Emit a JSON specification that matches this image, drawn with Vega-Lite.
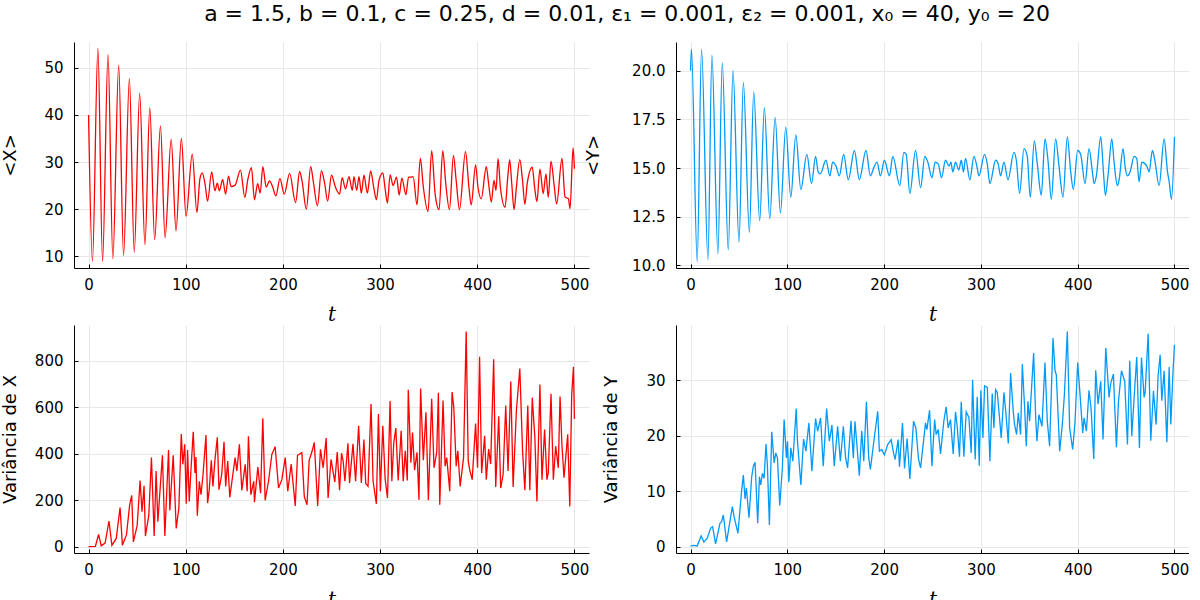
{
"$schema": "https://vega.github.io/schema/vega-lite/v6.json",
"padding": {"left": 0, "top": 3, "right": 0, "bottom": 0},
"background": "white",
"title": {"text": "a = 1.5, b = 0.1, c = 0.25, d = 0.01, ε₁ = 0.001, ε₂ = 0.001, x₀ = 40, y₀ = 20", "font": "DejaVu Sans", "fontSize": 22, "fontWeight": "normal", "anchor": "middle", "offset": 16, "dx": 32, "color": "#000"},
"datasets": {
"xm": [
{"t":0,"v":40},{"t":4,"v":8.9},{"t":9.6,"v":54.2},{"t":14.4,"v":8.9},{"t":20,"v":52.8},{"t":25,"v":9.5},{"t":31,"v":50.6},{"t":36,"v":10.2},{"t":42,"v":47.7},{"t":47,"v":10.9},{"t":52.6,"v":44.6},{"t":58,"v":12.5},{"t":63,"v":41.5},{"t":68,"v":13.5},{"t":74,"v":37.7},{"t":78.7,"v":13.9},{"t":85,"v":34.8},{"t":90,"v":15.4},{"t":95.5,"v":35.0},{"t":100.3,"v":18.5},{"t":106.7,"v":31.7},{"t":111.5,"v":19.3},{"t":114.6,"v":26.5},{"t":117,"v":27.7},{"t":119.8,"v":25.4},{"t":122.5,"v":21.7},{"t":126.7,"v":27.9},{"t":130,"v":23.9},{"t":132.5,"v":25.5},{"t":134.6,"v":23.9},{"t":138,"v":26.3},{"t":141,"v":23.2},{"t":144,"v":27.0},{"t":146.6,"v":24.8},{"t":150.8,"v":25.1},{"t":156.3,"v":28.3},{"t":160.8,"v":22.5},{"t":163.9,"v":26.3},{"t":167.6,"v":28.8},{"t":170.7,"v":22.0},{"t":174,"v":25.4},{"t":176.6,"v":23.4},{"t":179.3,"v":29.0},{"t":182.8,"v":24.7},{"t":186.2,"v":26.0},{"t":189.3,"v":24.8},{"t":192.8,"v":22.8},{"t":196.9,"v":26.5},{"t":201.4,"v":23.2},{"t":206.9,"v":27.6},{"t":213,"v":21.4},{"t":217.2,"v":28.0},{"t":219.6,"v":26.1},{"t":224.1,"v":20.0},{"t":228.6,"v":29.0},{"t":231.4,"v":25.7},{"t":235.5,"v":20.7},{"t":239.6,"v":28.1},{"t":243,"v":25.4},{"t":246,"v":21.7},{"t":250,"v":27.2},{"t":254,"v":24.7},{"t":258.3,"v":23.2},{"t":261,"v":26.7},{"t":264.4,"v":24.3},{"t":268,"v":26.9},{"t":271.4,"v":24.0},{"t":273.1,"v":26.9},{"t":275.9,"v":24.0},{"t":278.3,"v":26.9},{"t":280.7,"v":23.4},{"t":283.4,"v":27.2},{"t":286.9,"v":23.4},{"t":290.3,"v":28.1},{"t":293.4,"v":24.7},{"t":296.2,"v":22.0},{"t":298.9,"v":26.1},{"t":302.8,"v":27.7},{"t":305.2,"v":24.3},{"t":307.6,"v":21.3},{"t":310.3,"v":27.3},{"t":313.4,"v":25.0},{"t":316.9,"v":26.8},{"t":319.7,"v":23.0},{"t":322.4,"v":26.6},{"t":326.6,"v":23.1},{"t":329.3,"v":26.8},{"t":331.7,"v":26.8},{"t":334,"v":26.9},{"t":338,"v":20.9},{"t":341.4,"v":30.8},{"t":344.5,"v":24.7},{"t":349.3,"v":19.5},{"t":353.1,"v":32.4},{"t":356.6,"v":23.3},{"t":360.7,"v":19.9},{"t":364.5,"v":32.4},{"t":367.6,"v":25.4},{"t":371.4,"v":19.9},{"t":375.5,"v":31.4},{"t":378.3,"v":26.1},{"t":381.7,"v":19.9},{"t":387.9,"v":32.2},{"t":391.4,"v":24.7},{"t":393.8,"v":20.9},{"t":398.3,"v":29.4},{"t":400.7,"v":24.7},{"t":404.1,"v":22.2},{"t":409.3,"v":29.0},{"t":411.7,"v":25.4},{"t":414.5,"v":21.5},{"t":417.2,"v":26.1},{"t":419.3,"v":24.0},{"t":421.4,"v":30.7},{"t":423.8,"v":24.7},{"t":428.6,"v":20.4},{"t":431.4,"v":26.8},{"t":433.4,"v":30.5},{"t":435.5,"v":25.4},{"t":437.9,"v":19.9},{"t":440.3,"v":24.7},{"t":443.8,"v":30.5},{"t":446.6,"v":26.1},{"t":449,"v":21.0},{"t":451.4,"v":25.4},{"t":456.6,"v":28.9},{"t":459,"v":24.7},{"t":461.4,"v":21.6},{"t":464.5,"v":28.5},{"t":467.9,"v":23.3},{"t":470.7,"v":27.5},{"t":473.1,"v":22.5},{"t":475.9,"v":30.2},{"t":479.3,"v":24.7},{"t":481.7,"v":21.1},{"t":487.2,"v":30.8},{"t":490.3,"v":22.6},{"t":493.8,"v":22.2},{"t":495.5,"v":20.1},{"t":498.6,"v":33.0},{"t":500,"v":28.6}
],
"ym": [
{"t":0,"v":20.0},{"t":1,"v":21.1},{"t":6.9,"v":10.2},{"t":11.4,"v":21.1},{"t":18,"v":10.3},{"t":22.1,"v":20.8},{"t":28.3,"v":10.6},{"t":32.8,"v":20.4},{"t":39,"v":10.8},{"t":43.9,"v":20.0},{"t":50.1,"v":11.2},{"t":54.6,"v":19.4},{"t":60.8,"v":11.7},{"t":65.3,"v":18.9},{"t":71.5,"v":12.3},{"t":76.3,"v":18.1},{"t":81.9,"v":12.4},{"t":87.4,"v":17.6},{"t":92.9,"v":12.7},{"t":98.4,"v":17.1},{"t":103.6,"v":13.5},{"t":108.8,"v":16.7},{"t":114,"v":13.9},{"t":120.2,"v":15.7},{"t":125,"v":14.2},{"t":129.2,"v":15.6},{"t":131.9,"v":14.8},{"t":134,"v":14.7},{"t":139.9,"v":15.4},{"t":144,"v":14.6},{"t":146.8,"v":15.3},{"t":150.3,"v":15.1},{"t":153.7,"v":14.6},{"t":158.2,"v":15.7},{"t":163,"v":14.4},{"t":169.3,"v":15.9},{"t":174.4,"v":14.4},{"t":181.3,"v":15.9},{"t":185.8,"v":14.6},{"t":190,"v":15.1},{"t":192.7,"v":15.3},{"t":196.2,"v":14.6},{"t":200.3,"v":15.4},{"t":205.5,"v":14.6},{"t":209,"v":15.6},{"t":216.2,"v":14.1},{"t":220.4,"v":15.8},{"t":222.8,"v":15.7},{"t":226.6,"v":13.7},{"t":232.5,"v":15.9},{"t":237.7,"v":14.0},{"t":242.1,"v":15.6},{"t":245.2,"v":15.3},{"t":249.4,"v":14.5},{"t":252.8,"v":15.3},{"t":256,"v":15.2},{"t":259.3,"v":14.5},{"t":263.4,"v":15.4},{"t":267.2,"v":15.1},{"t":269,"v":15.3},{"t":271,"v":14.8},{"t":273.8,"v":15.3},{"t":277.2,"v":14.9},{"t":279.7,"v":15.4},{"t":282,"v":14.8},{"t":284.1,"v":15.5},{"t":288.6,"v":14.4},{"t":292.8,"v":15.6},{"t":296.2,"v":15.0},{"t":297.9,"v":14.6},{"t":303.8,"v":15.7},{"t":306.6,"v":15.2},{"t":309.3,"v":14.2},{"t":315.2,"v":15.4},{"t":317.9,"v":15.2},{"t":320.3,"v":14.6},{"t":323.8,"v":15.3},{"t":328,"v":14.4},{"t":334.1,"v":15.8},{"t":336.6,"v":15.4},{"t":340,"v":13.7},{"t":344.5,"v":16.0},{"t":347.9,"v":15.6},{"t":351,"v":13.5},{"t":355.2,"v":16.4},{"t":358.3,"v":15.2},{"t":362.4,"v":13.6},{"t":366.2,"v":16.5},{"t":369.3,"v":15.4},{"t":372.8,"v":13.4},{"t":377.2,"v":16.5},{"t":380.7,"v":15.1},{"t":384.8,"v":13.5},{"t":389.3,"v":16.6},{"t":392.8,"v":14.8},{"t":395.5,"v":13.9},{"t":400,"v":15.9},{"t":403.1,"v":15.7},{"t":407.6,"v":14.2},{"t":411.7,"v":16.0},{"t":415.2,"v":14.8},{"t":416.9,"v":14.2},{"t":419.3,"v":14.6},{"t":423.8,"v":16.6},{"t":426.6,"v":14.8},{"t":428.6,"v":13.6},{"t":431.7,"v":14.8},{"t":435.2,"v":16.5},{"t":437.6,"v":15.3},{"t":441,"v":14.1},{"t":442.8,"v":14.4},{"t":446.9,"v":16.0},{"t":448.9,"v":15.1},{"t":451.4,"v":14.6},{"t":454.1,"v":14.8},{"t":458.3,"v":15.6},{"t":461,"v":15.5},{"t":463.4,"v":14.3},{"t":466.2,"v":15.3},{"t":471.4,"v":15.1},{"t":473.8,"v":14.8},{"t":477.2,"v":15.9},{"t":479.7,"v":15.4},{"t":484.1,"v":14.1},{"t":489.3,"v":16.5},{"t":492.8,"v":14.8},{"t":494.5,"v":14.3},{"t":496.9,"v":13.4},{"t":500,"v":16.6}
],
"vx": [
{"t":0,"v":0},{"t":7,"v":1},{"t":10.3,"v":52},{"t":13,"v":3},{"t":17,"v":15},{"t":21,"v":110},{"t":24,"v":5},{"t":28.5,"v":35},{"t":32.4,"v":168},{"t":34.8,"v":6},{"t":39,"v":50},{"t":42.3,"v":180},{"t":44.4,"v":220},{"t":46.1,"v":20},{"t":50,"v":90},{"t":53,"v":284},{"t":55,"v":150},{"t":57.1,"v":262},{"t":58.5,"v":45},{"t":62,"v":135},{"t":64.7,"v":383},{"t":67.5,"v":45},{"t":69.5,"v":325},{"t":71.3,"v":107},{"t":76,"v":393},{"t":78.5,"v":46},{"t":82.3,"v":416},{"t":83.6,"v":155},{"t":87.1,"v":393},{"t":90.2,"v":78},{"t":92.9,"v":165},{"t":95.4,"v":484},{"t":97,"v":354},{"t":99,"v":440},{"t":100.5,"v":184},{"t":101.9,"v":416},{"t":103.6,"v":194},{"t":105.3,"v":325},{"t":107.7,"v":494},{"t":109.5,"v":317},{"t":110.5,"v":385},{"t":111.9,"v":133},{"t":114,"v":281},{"t":115.7,"v":223},{"t":117.8,"v":310},{"t":120.8,"v":480},{"t":122.5,"v":187},{"t":124.2,"v":246},{"t":126.3,"v":371},{"t":128,"v":259},{"t":130,"v":371},{"t":132.5,"v":470},{"t":134.2,"v":245},{"t":137,"v":310},{"t":139.4,"v":451},{"t":141.1,"v":259},{"t":143.2,"v":368},{"t":145.3,"v":212},{"t":148,"v":296},{"t":150.8,"v":383},{"t":152.6,"v":325},{"t":155.2,"v":440},{"t":157.7,"v":242},{"t":161.2,"v":354},{"t":163.2,"v":238},{"t":164.5,"v":475},{"t":167,"v":223},{"t":170,"v":281},{"t":170.7,"v":191},{"t":174.2,"v":342},{"t":177,"v":230},{"t":179.3,"v":552},{"t":181.7,"v":199},{"t":185.2,"v":281},{"t":188.6,"v":397},{"t":192,"v":430},{"t":195.5,"v":252},{"t":198.9,"v":288},{"t":202.4,"v":383},{"t":205,"v":238},{"t":208.5,"v":355},{"t":212.7,"v":175},{"t":215,"v":393},{"t":219.5,"v":404},{"t":222,"v":215},{"t":224.8,"v":180},{"t":227,"v":371},{"t":229.9,"v":409},{"t":232.3,"v":448},{"t":235.8,"v":175},{"t":238.6,"v":419},{"t":241.4,"v":339},{"t":244.5,"v":467},{"t":246.5,"v":209},{"t":249.5,"v":375},{"t":253.4,"v":278},{"t":255.9,"v":407},{"t":258.3,"v":242},{"t":260.3,"v":402},{"t":262,"v":368},{"t":263.8,"v":281},{"t":266.9,"v":445},{"t":268.6,"v":274},{"t":272.1,"v":442},{"t":274.8,"v":281},{"t":277.9,"v":520},{"t":280.7,"v":274},{"t":283.4,"v":461},{"t":285.2,"v":271},{"t":287.6,"v":259},{"t":290.7,"v":614},{"t":292.8,"v":281},{"t":296.2,"v":184},{"t":298.3,"v":571},{"t":300.3,"v":238},{"t":302.8,"v":520},{"t":305.2,"v":291},{"t":307.6,"v":209},{"t":310.3,"v":626},{"t":312.1,"v":281},{"t":314.1,"v":448},{"t":316.2,"v":510},{"t":318.6,"v":284},{"t":321.7,"v":498},{"t":323.8,"v":281},{"t":325.9,"v":412},{"t":328,"v":284},{"t":329,"v":675},{"t":331.7,"v":361},{"t":333.4,"v":491},{"t":335.5,"v":329},{"t":338,"v":406},{"t":340,"v":201},{"t":341.7,"v":680},{"t":344.5,"v":372},{"t":347.2,"v":578},{"t":349.7,"v":199},{"t":353.1,"v":636},{"t":355.5,"v":339},{"t":358.3,"v":406},{"t":360,"v":662},{"t":361.4,"v":180},{"t":364.8,"v":629},{"t":366.9,"v":346},{"t":368.6,"v":383},{"t":371.7,"v":238},{"t":374.1,"v":665},{"t":375.9,"v":596},{"t":378.3,"v":346},{"t":380,"v":412},{"t":382.4,"v":259},{"t":385.9,"v":383},{"t":388.6,"v":926},{"t":390.7,"v":368},{"t":392.4,"v":327},{"t":394.8,"v":288},{"t":398.3,"v":530},{"t":400.3,"v":339},{"t":402.4,"v":817},{"t":404.5,"v":317},{"t":407.6,"v":477},{"t":409.3,"v":288},{"t":411.7,"v":420},{"t":413.8,"v":355},{"t":416.9,"v":806},{"t":419,"v":256},{"t":422.1,"v":561},{"t":424.1,"v":252},{"t":426.6,"v":310},{"t":429.3,"v":607},{"t":431.7,"v":325},{"t":434.5,"v":711},{"t":436.9,"v":256},{"t":440.3,"v":587},{"t":443.8,"v":766},{"t":446.6,"v":414},{"t":449,"v":242},{"t":452,"v":607},{"t":454.1,"v":242},{"t":456.6,"v":641},{"t":459.3,"v":469},{"t":461.4,"v":194},{"t":464.5,"v":698},{"t":466.6,"v":288},{"t":469.3,"v":504},{"t":471.7,"v":288},{"t":473.1,"v":317},{"t":475.9,"v":658},{"t":478.3,"v":288},{"t":480.7,"v":432},{"t":483.4,"v":339},{"t":485.2,"v":646},{"t":487.2,"v":433},{"t":489.3,"v":296},{"t":493.1,"v":483},{"t":495.2,"v":172},{"t":497.2,"v":653},{"t":499,"v":774},{"t":500,"v":549}
],
"vy": [
{"t":0,"v":0.1},{"t":2.8,"v":0.2},{"t":6.9,"v":0.1},{"t":11,"v":1.9},{"t":13.8,"v":0.8},{"t":17.3,"v":1.5},{"t":20.7,"v":3.3},{"t":22.8,"v":3.6},{"t":25.9,"v":0.5},{"t":30.4,"v":4.2},{"t":32.1,"v":4.5},{"t":33.9,"v":5.7},{"t":37.3,"v":0.85},{"t":43.2,"v":7.2},{"t":45,"v":5.4},{"t":49,"v":2.4},{"t":52.8,"v":10.1},{"t":54.6,"v":12.9},{"t":56.3,"v":8.6},{"t":57.7,"v":10.6},{"t":60.4,"v":5.2},{"t":63.2,"v":12.6},{"t":64.9,"v":14.5},{"t":66.7,"v":15.2},{"t":69.4,"v":4.2},{"t":71.2,"v":12.6},{"t":72.5,"v":11.1},{"t":74.3,"v":13.2},{"t":76,"v":12.3},{"t":78,"v":18.5},{"t":79.4,"v":14.7},{"t":81.5,"v":3.9},{"t":83.9,"v":20.7},{"t":86.4,"v":15.1},{"t":88.1,"v":16.9},{"t":89.8,"v":16.0},{"t":92.2,"v":7.4},{"t":94.9,"v":14.2},{"t":96.7,"v":22.9},{"t":99.1,"v":16.0},{"t":100.2,"v":19.0},{"t":101.6,"v":11.6},{"t":103.6,"v":17.8},{"t":105.7,"v":15.4},{"t":109.2,"v":24.9},{"t":110.5,"v":19.0},{"t":114,"v":11.1},{"t":116.8,"v":19.4},{"t":119.2,"v":17.2},{"t":122.3,"v":22.3},{"t":125.4,"v":13.6},{"t":129.2,"v":23.1},{"t":131.3,"v":20.8},{"t":134.4,"v":23.2},{"t":137.1,"v":14.5},{"t":140.6,"v":24.9},{"t":143.4,"v":19.0},{"t":146.1,"v":21.9},{"t":148.5,"v":14.5},{"t":152,"v":21.7},{"t":154.8,"v":15.4},{"t":157.9,"v":21.7},{"t":160.2,"v":16.0},{"t":162.3,"v":14.2},{"t":165.8,"v":22.7},{"t":168.2,"v":16.0},{"t":169.9,"v":22.6},{"t":171.6,"v":19.0},{"t":174.4,"v":12.8},{"t":176.9,"v":20.9},{"t":179,"v":15.4},{"t":181.7,"v":26.1},{"t":184.1,"v":16.0},{"t":185.8,"v":13.9},{"t":190,"v":19.8},{"t":193.4,"v":24.4},{"t":195.1,"v":17.2},{"t":197.6,"v":17.5},{"t":200.3,"v":16.5},{"t":203.7,"v":18.4},{"t":207.3,"v":19.3},{"t":209.7,"v":16.9},{"t":211.4,"v":15.7},{"t":214.5,"v":19.3},{"t":215.9,"v":14.4},{"t":219,"v":22.3},{"t":221.1,"v":14.1},{"t":223.8,"v":19.5},{"t":226.6,"v":12.2},{"t":230.4,"v":22.6},{"t":232.8,"v":21.4},{"t":235.6,"v":15.7},{"t":237.7,"v":14.2},{"t":242.8,"v":22.3},{"t":244.2,"v":21.1},{"t":247,"v":24.6},{"t":249.4,"v":14.5},{"t":252.2,"v":22.9},{"t":253.8,"v":20.2},{"t":255.9,"v":21.1},{"t":258.3,"v":16.7},{"t":261.7,"v":22.6},{"t":264.1,"v":25.2},{"t":266.2,"v":21.4},{"t":268.6,"v":22.9},{"t":271.4,"v":16.7},{"t":273.8,"v":24.3},{"t":275.5,"v":21.7},{"t":277.9,"v":16.2},{"t":279.7,"v":26.1},{"t":282.4,"v":16.2},{"t":284.8,"v":24.3},{"t":287.6,"v":23.3},{"t":290,"v":16.9},{"t":291.4,"v":30.1},{"t":294.1,"v":15.7},{"t":296.2,"v":27.0},{"t":298.3,"v":14.6},{"t":300,"v":28.2},{"t":302.1,"v":19.6},{"t":303.8,"v":29.0},{"t":306.6,"v":28.7},{"t":309.3,"v":15.4},{"t":311.7,"v":27.6},{"t":313.4,"v":21.4},{"t":315.2,"v":28.3},{"t":316.9,"v":27.8},{"t":318.6,"v":24.5},{"t":321,"v":19.6},{"t":323.8,"v":27.8},{"t":325.9,"v":23.9},{"t":328.3,"v":18.6},{"t":330.7,"v":31.3},{"t":333.4,"v":24.4},{"t":334.8,"v":22.0},{"t":336.9,"v":20.2},{"t":338.6,"v":24.1},{"t":341,"v":20.2},{"t":342.8,"v":32.9},{"t":345.2,"v":25.0},{"t":346.9,"v":18.1},{"t":348.6,"v":26.2},{"t":350.3,"v":22.6},{"t":354.5,"v":34.9},{"t":356.6,"v":23.2},{"t":357.9,"v":19.0},{"t":360,"v":23.8},{"t":363.1,"v":21.7},{"t":366.2,"v":33.2},{"t":368.6,"v":22.6},{"t":371,"v":18.1},{"t":374.5,"v":37.6},{"t":376.6,"v":31.7},{"t":377.9,"v":31.0},{"t":381.4,"v":17.2},{"t":384.1,"v":22.0},{"t":386.2,"v":27.2},{"t":389.3,"v":38.8},{"t":391.7,"v":21.4},{"t":394.8,"v":17.5},{"t":397.2,"v":22.3},{"t":400,"v":33.2},{"t":402.4,"v":27.5},{"t":405.2,"v":20.5},{"t":406.6,"v":23.2},{"t":409,"v":20.8},{"t":411.7,"v":28.2},{"t":413.8,"v":25.0},{"t":416.6,"v":15.8},{"t":418.6,"v":31.8},{"t":421,"v":25.7},{"t":423.8,"v":29.8},{"t":426.2,"v":19.3},{"t":429,"v":35.8},{"t":432.4,"v":26.9},{"t":434.1,"v":29.4},{"t":436.9,"v":31.1},{"t":440,"v":17.9},{"t":442.1,"v":26.1},{"t":445.2,"v":31.7},{"t":448.6,"v":29.8},{"t":451.4,"v":18.4},{"t":453.8,"v":33.5},{"t":455.9,"v":19.9},{"t":458.3,"v":26.9},{"t":461,"v":34.2},{"t":463.8,"v":17.8},{"t":465.9,"v":34.1},{"t":468.6,"v":26.9},{"t":469.7,"v":27.8},{"t":472.8,"v":38.4},{"t":475.5,"v":19.1},{"t":478.3,"v":28.1},{"t":481,"v":22.0},{"t":483.1,"v":30.8},{"t":485.2,"v":34.6},{"t":486.9,"v":26.3},{"t":489.3,"v":31.7},{"t":492.1,"v":18.8},{"t":494.5,"v":32.4},{"t":496.2,"v":22.0},{"t":498.3,"v":30.8},{"t":500,"v":36.4}
]
},
"columns": 2,
"bounds": "flush",
"spacing": {"row": 57, "column": 87},
"concat": [
{
"width": 515, "height": 226,
"data": {"name": "xm"},
"mark": {"type": "line", "color": "#ff0000", "strokeWidth": 1.3, "interpolate": "monotone"},
"encoding": {
"x": {"field": "t", "type": "quantitative", "scale": {"domain": [-15, 515], "nice": false, "zero": false}, "axis": {"values": [0,100,200,300,400,500], "title": "t"}},
"y": {"field": "v", "type": "quantitative", "scale": {"domain": [7.5, 55.5], "nice": false, "zero": false}, "axis": {"values": [10,20,30,40,50], "title": "<X>", "titleX": -55}}
}
},
{
"width": 513, "height": 226,
"data": {"name": "ym"},
"mark": {"type": "line", "color": "#009af9", "strokeWidth": 1.3, "interpolate": "monotone"},
"encoding": {
"x": {"field": "t", "type": "quantitative", "scale": {"domain": [-15, 515], "nice": false, "zero": false}, "axis": {"values": [0,100,200,300,400,500], "title": "t"}},
"y": {"field": "v", "type": "quantitative", "scale": {"domain": [9.87, 21.47], "nice": false, "zero": false}, "axis": {"values": [10,12.5,15,17.5,20], "format": ".1f", "title": "<Y>", "titleX": -74}}
}
},
{
"width": 515, "height": 228,
"data": {"name": "vx"},
"mark": {"type": "line", "color": "#ff0000", "strokeWidth": 1.3},
"encoding": {
"x": {"field": "t", "type": "quantitative", "scale": {"domain": [-15, 515], "nice": false, "zero": false}, "axis": {"values": [0,100,200,300,400,500], "title": "t"}},
"y": {"field": "v", "type": "quantitative", "scale": {"domain": [-27.8, 953.8], "nice": false, "zero": false}, "axis": {"values": [0,200,400,600,800], "title": "Variância de X", "titleX": -55}}
}
},
{
"width": 513, "height": 228,
"data": {"name": "vy"},
"mark": {"type": "line", "color": "#009af9", "strokeWidth": 1.3},
"encoding": {
"x": {"field": "t", "type": "quantitative", "scale": {"domain": [-15, 515], "nice": false, "zero": false}, "axis": {"values": [0,100,200,300,400,500], "title": "t"}},
"y": {"field": "v", "type": "quantitative", "scale": {"domain": [-1.16, 39.96], "nice": false, "zero": false}, "axis": {"values": [0,10,20,30], "title": "Variância de Y", "titleX": -56}}
}
}
],
"config": {
"view": {"stroke": null},
"axis": {"domainColor": "#000", "domainWidth": 1, "tickColor": "#000", "tickSize": -4, "labelColor": "#000", "labelFont": "DejaVu Sans", "labelFontSize": 15, "gridColor": "#e8e8e8", "gridWidth": 1, "titleColor": "#000", "titleFontWeight": "normal"},
"axisX": {"labelPadding": 13, "titleFont": "DejaVu Serif", "titleFontStyle": "italic", "titleFontSize": 20, "titlePadding": 12},
"axisY": {"labelPadding": 15, "titleFont": "DejaVu Sans", "titleFontSize": 18}
}
}
